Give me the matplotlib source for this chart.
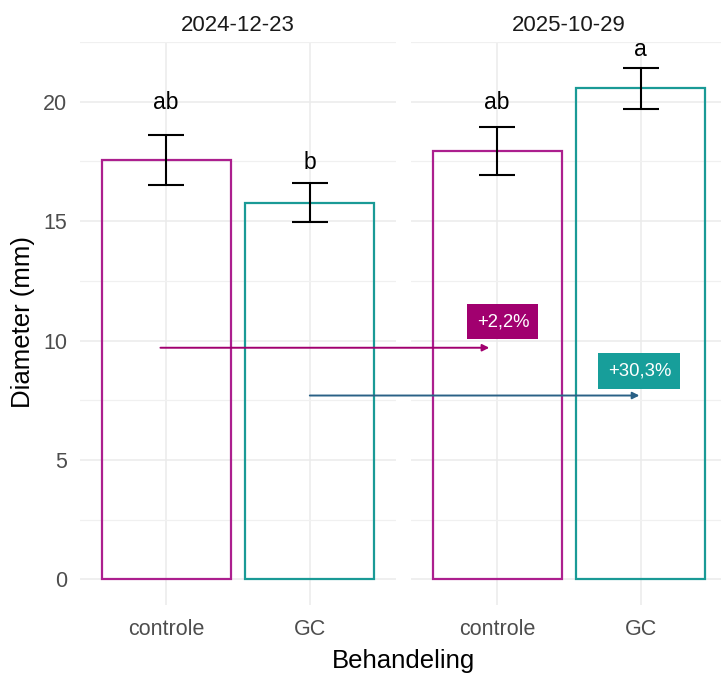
import matplotlib.pyplot as plt
from matplotlib.patches import ConnectionPatch
from matplotlib.ticker import MultipleLocator

plt.rcParams['font.family'] = ['Liberation Sans', 'DejaVu Sans']

dates = ['2024-12-23', '2025-10-29']
treatments = ['controle', 'GC']
means = {'2024-12-23': [17.55, 15.78], '2025-10-29': [17.93, 20.56]}
errors = {'2024-12-23': [1.05, 0.82], '2025-10-29': [1.01, 0.85]}
letters = {'2024-12-23': ['ab', 'b'], '2025-10-29': ['ab', 'a']}
changes = ['+2,2%', '+30,3%']

edge_colors = ['#AC1F8E', '#1A9A96']
label_colors = ['#A1006F', '#179E9A']
arrow_colors = ['#A1006F', '#2A6186']
letter_y = {'2024-12-23': [19.68, 17.17], '2025-10-29': [19.68, 21.92]}
arrow_y = [9.7, 7.7]
arrow_dx = [(-0.04, -0.055), (0.0, -0.01)]
label_pos = [(1.04, 10.79), (1.99, 8.72)]

fig = plt.figure(figsize=(7.21, 6.75), dpi=100)
ax_l = fig.add_axes([80 / 721, 70 / 675, 316 / 721, 563 / 675])
ax_r = fig.add_axes([411 / 721, 70 / 675, 316 / 721, 563 / 675])
axes = [ax_l, ax_r]

x = [1, 2]
for ax, d in zip(axes, dates):
    ax.bar(x, means[d], width=0.9, facecolor='none', edgecolor=edge_colors,
           linewidth=1.6, zorder=3)
    ax.errorbar(x, means[d], yerr=errors[d], fmt='none', ecolor='black',
                elinewidth=1.5, capsize=13, capthick=1.5, zorder=4)
    for xi, ly, lt in zip(x, letter_y[d], letters[d]):
        ax.text(xi, ly, lt, ha='center', va='baseline', fontsize=16.5,
                color='black', zorder=5)
    ax.set_xlim(0.4, 2.6)
    ax.set_ylim(-1.07, 22.5)
    ax.set_xticks(x)
    ax.set_xticklabels(treatments)
    ax.yaxis.set_major_locator(MultipleLocator(5))
    ax.yaxis.set_minor_locator(MultipleLocator(2.5))
    ax.grid(which='major', color='#EBEBEB', linewidth=1.1, zorder=0)
    ax.grid(which='minor', axis='y', color='#F0F0F0', linewidth=0.9, zorder=0)
    ax.tick_params(which='both', length=0, labelsize=15.5, labelcolor='#4D4D4D',
                   pad=9)
    ax.tick_params(axis='x', pad=10)
    for s in ax.spines.values():
        s.set_visible(False)
    ax.set_title(d, fontsize=16, pad=8, color='#1A1A1A')
    ax.set_axisbelow(True)

ax_r.tick_params(axis='y', labelleft=False)
fig.text(23 / 721, 1 - 322 / 675, 'Diameter (mm)', rotation=90, ha='center',
         va='center', fontsize=18.5)
fig.text(404 / 721, 1 - 661 / 675, 'Behandeling', ha='center', va='center',
         fontsize=18.5)

# arrows from the first date to the second, per treatment
for i in range(2):
    dx0, dx1 = arrow_dx[i]
    con = ConnectionPatch(xyA=(x[i] + dx0, arrow_y[i]), coordsA=ax_l.transData,
                          xyB=(x[i] + dx1, arrow_y[i]), coordsB=ax_r.transData,
                          arrowstyle='-|>', mutation_scale=10,
                          color=arrow_colors[i], linewidth=1.4, zorder=6)
    fig.add_artist(con)
    lx, ly = label_pos[i]
    ax_r.text(lx, ly, changes[i], ha='center', va='center', fontsize=13.3,
              color='white', zorder=7,
              bbox=dict(boxstyle='square,pad=0.5', facecolor=label_colors[i],
                        edgecolor='none'))

fig.savefig('out.png', dpi=100)
